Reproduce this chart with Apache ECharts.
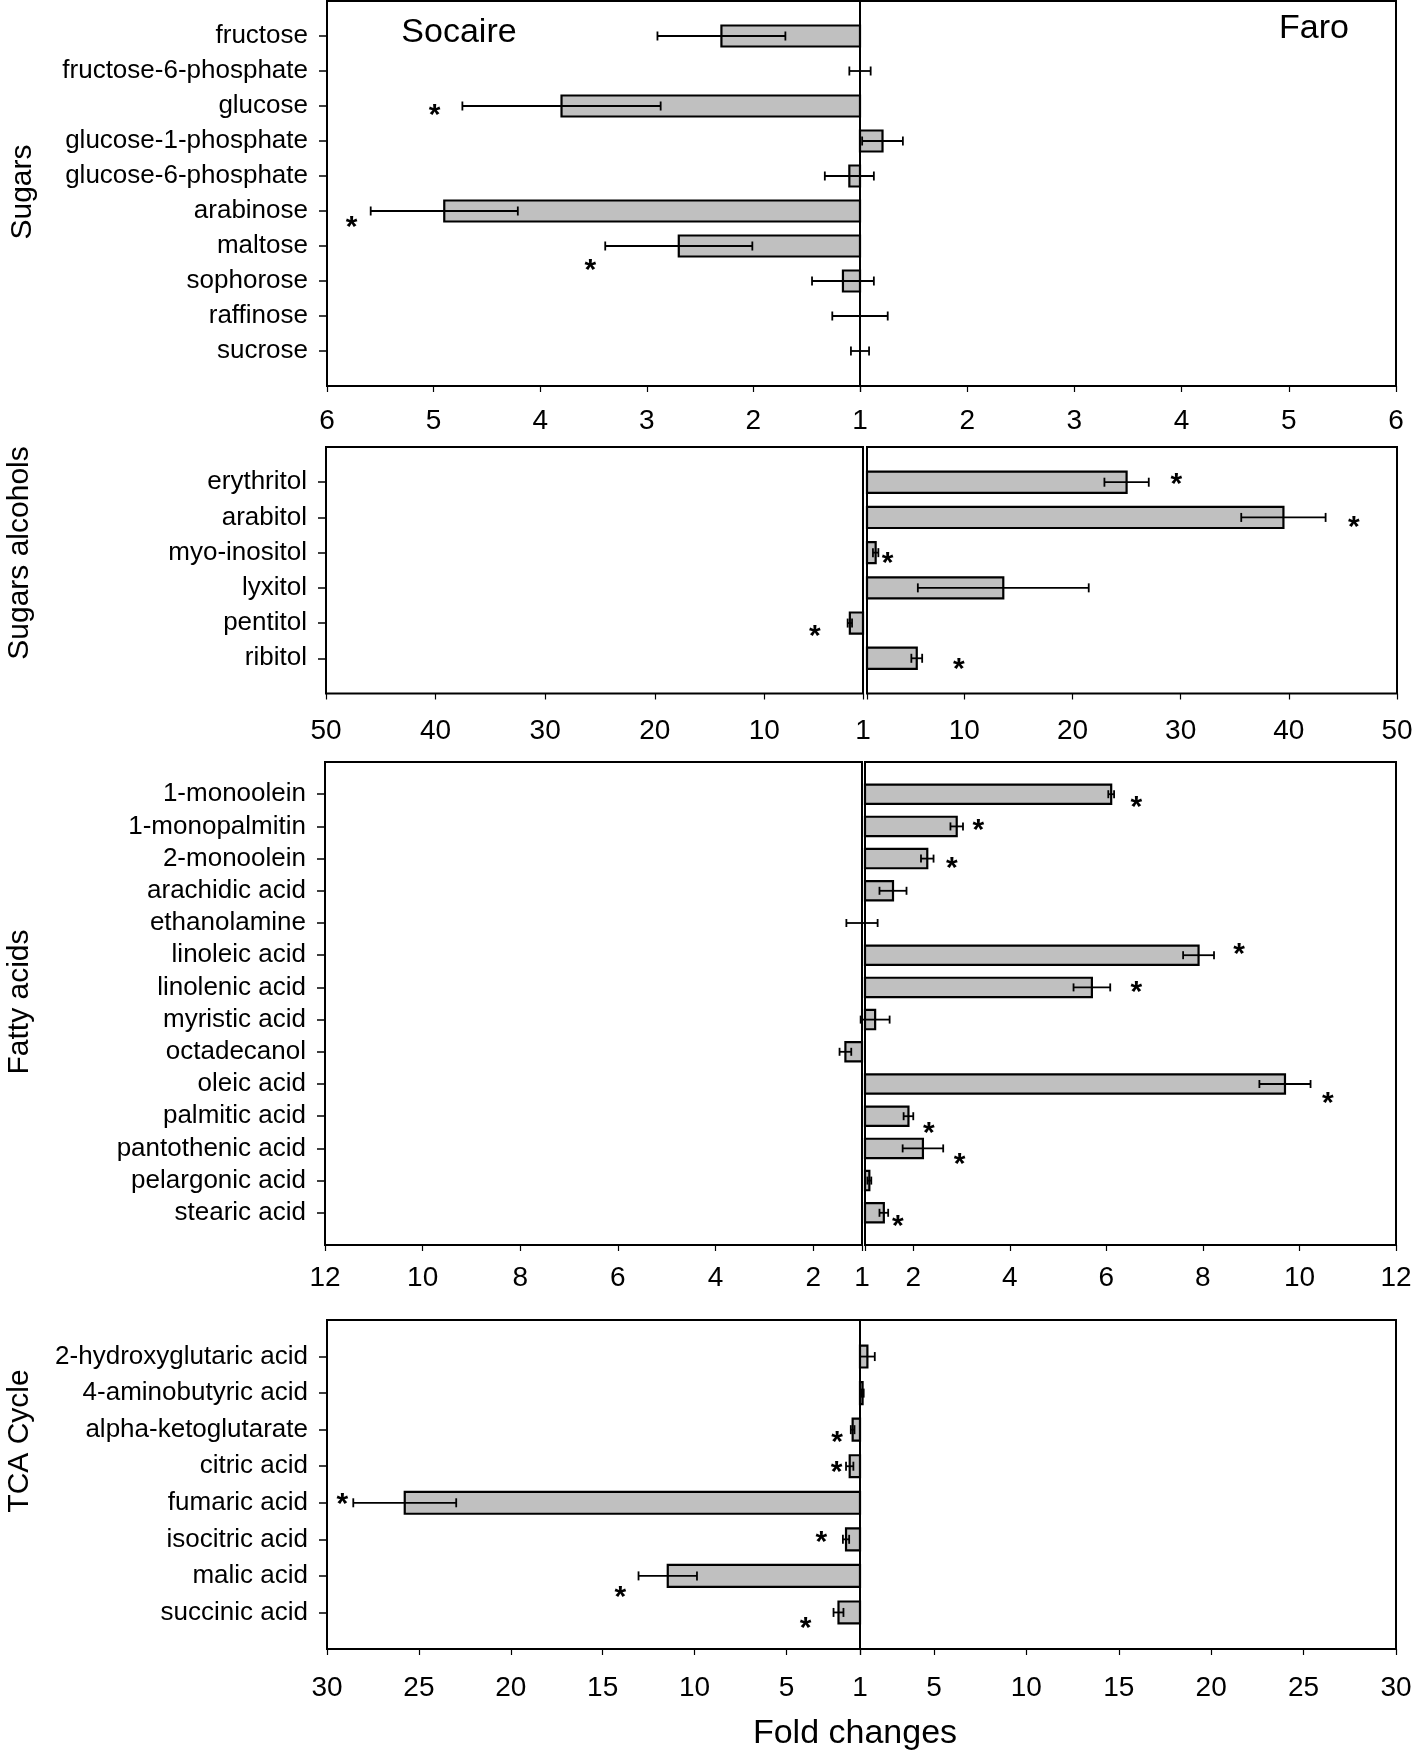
<!DOCTYPE html>
<html><head><meta charset="utf-8">
<script src="https://cdn.jsdelivr.net/npm/echarts@6/dist/echarts.min.js"></script>
<style>html,body{margin:0;padding:0;background:#fff}#c{width:1418px;height:1753px}</style>
</head><body><div id="c"></div>
<script>
const FONT = "'Liberation Sans', Arial, Helvetica, sans-serif";

// ---- Sugars ----
const sugarNames = ['fructose','fructose-6-phosphate','glucose','glucose-1-phosphate','glucose-6-phosphate','arabinose','maltose','sophorose','raffinose','sucrose'];
const sugarSide  = ['S','S','S','F','S','S','S','S','S','S'];
const sugarValue = [2.30,1.00,3.80,1.21,1.10,4.90,2.70,1.16,1.00,1.00];
const sugarError = [0.60,0.10,0.93,0.19,0.23,0.69,0.69,0.29,0.26,0.085];
const sugarStar  = [0,0,4.99,0,0,5.77,3.53,0,0,0];
const sugarStarDy= [0,0,0.09,0,0,0.28,0.50,0,0,0];
const sugarTicks = [1,2,3,4,5,6];

// ---- Sugar alcohols ----
const alcNames = ['erythritol','arabitol','myo-inositol','lyxitol','pentitol','ribitol'];
const alcSide  = ['F','F','F','F','S','F'];
const alcValue = [25.0,39.5,1.8,13.6,2.2,5.6];
const alcError = [2.05,3.9,0.25,7.9,0.2,0.5];
const alcStar  = [29.6,46.0,2.9,0,5.4,9.5];
const alcStarDy= [-0.13,0.08,0.12,0,0.19,0.12];
const alcTicks = [1,10,20,30,40,50];

// ---- Fatty acids ----
const fatNames = ['1-monoolein','1-monopalmitin','2-monoolein','arachidic acid','ethanolamine','linoleic acid','linolenic acid','myristic acid','octadecanol','oleic acid','palmitic acid','pantothenic acid','pelargonic acid','stearic acid'];
const fatSide  = ['F','F','F','F','S','F','F','F','S','F','F','F','F','F'];
const fatValue = [6.10,2.90,2.29,1.58,1.00,7.91,5.70,1.21,1.34,9.70,1.90,2.20,1.09,1.39];
const fatError = [0.06,0.13,0.13,0.28,0.32,0.32,0.38,0.30,0.12,0.53,0.10,0.42,0.04,0.09];
const fatStar  = [6.62,3.35,2.80,0,0,8.75,6.62,0,0,10.59,2.32,2.96,0,1.68];
const fatStarDy= [0.19,-0.07,0.09,0,0,-0.23,-0.04,0,0,0.41,0.34,0.30,0,0.20];
const fatTicks = [1,2,4,6,8,10,12];

// ---- TCA cycle ----
const tcaNames = ['2-hydroxyglutaric acid','4-aminobutyric acid','alpha-ketoglutarate','citric acid','fumaric acid','isocitric acid','malic acid','succinic acid'];
const tcaSide  = ['F','F','S','S','S','S','S','S'];
const tcaValue = [1.40,1.14,1.40,1.56,25.77,1.76,11.46,2.17];
const tcaError = [0.40,0.06,0.10,0.20,2.80,0.17,1.59,0.27];
const tcaStar  = [0,0,2.25,2.27,29.17,3.11,14.04,3.96];
const tcaStarDy= [0,0,0.155,0,-0.13,-0.11,0.40,0.26];
const tcaTicks = [1,5,10,15,20,25,30];

const panels = [
  {names:sugarNames, side:sugarSide, value:sugarValue, err:sugarError, star:sugarStar, dy:sugarStarDy, ticks:sugarTicks,
   L:{left:327,width:533}, R:{left:860,width:536}, top:1, height:385, margin:21, oneLeft:false, cap:4.5},
  {names:alcNames, side:alcSide, value:alcValue, err:alcError, star:alcStar, dy:alcStarDy, ticks:alcTicks,
   L:{left:326,width:537}, R:{left:867,width:530}, top:447, height:246.5, margin:24, oneLeft:true, cap:4.5},
  {names:fatNames, side:fatSide, value:fatValue, err:fatError, star:fatStar, dy:fatStarDy, ticks:fatTicks,
   L:{left:325,width:537}, R:{left:865,width:531}, top:762, height:483, margin:19, oneLeft:true, cap:4},
  {names:tcaNames, side:tcaSide, value:tcaValue, err:tcaError, star:tcaStar, dy:tcaStarDy, ticks:tcaTicks,
   L:{left:327,width:533}, R:{left:860,width:536}, top:1320, height:329, margin:25, oneLeft:true, cap:4.5}
];

function makeRender(cap) {
  return function (params, api) {
    const v = api.value(0), idx = api.value(1), e = api.value(2), sv = api.value(3), sdy = api.value(4);
    const band = api.size([0, 1])[1];
    const h = band * 0.6;
    const base = api.coord([1, idx]);
    const end = api.coord([v, idx]);
    const lo = api.coord([v - e, idx]);
    const hi = api.coord([v + e, idx]);
    const y = base[1];
    const ch = [];
    if (Math.abs(end[0] - base[0]) > 0.5) {
      ch.push({type:'rect', shape:{x:Math.min(base[0], end[0]), y:y - h/2, width:Math.abs(end[0] - base[0]), height:h},
               style:{fill:'#c0c0c0', stroke:'#000', lineWidth:2.2}});
    }
    const ls = {stroke:'#000', lineWidth:1.8};
    ch.push({type:'line', shape:{x1:lo[0], y1:y, x2:hi[0], y2:y}, style:ls});
    ch.push({type:'line', shape:{x1:lo[0], y1:y-cap, x2:lo[0], y2:y+cap}, style:ls});
    ch.push({type:'line', shape:{x1:hi[0], y1:y-cap, x2:hi[0], y2:y+cap}, style:ls});
    if (sv > 0) {
      const sp = api.coord([sv, idx]);
      ch.push({type:'text', x:sp[0], y:y + sdy * band + 7,
               style:{text:'*', font:'bold 30px ' + FONT, fill:'#000', align:'center', verticalAlign:'middle', textAlign:'center', textVerticalAlign:'middle'}});
    }
    return {type:'group', children:ch};
  };
}

const grid = [], xAxis = [], yAxis = [], series = [];
panels.forEach((p, pi) => {
  const cats = [''].concat(p.names, ['']);
  const max = p.ticks[p.ticks.length - 1];
  [['S', p.L], ['F', p.R]].forEach(([sd, g], k) => {
    const gi = grid.length;
    grid.push({left:g.left, width:g.width, top:p.top, height:p.height, show:true, borderColor:'#000', borderWidth:2,
               backgroundColor:'transparent', containLabel:false, outerBoundsMode:'none'});
    const labelVals = p.ticks.filter(t => t !== 1 || (sd === 'S' ? p.oneLeft : !p.oneLeft));
    xAxis.push({type:'value', gridIndex:gi, min:1, max:max, inverse: sd === 'S', position:'bottom',
      axisLine:{show:false}, splitLine:{show:false},
      axisTick:{show:true, inside:false, length:6, lineStyle:{color:'#000', width:1.2}, customValues:p.ticks},
      axisLabel:{show:true, customValues:labelVals, fontSize:28, fontFamily:FONT, color:'#000', margin:p.margin}});
    yAxis.push({type:'category', gridIndex:gi, data:cats, inverse:true, boundaryGap:false, show: sd === 'S',
      axisLine:{show:false}, splitLine:{show:false},
      axisTick:{show:true, inside:false, length:8, lineStyle:{color:'#000', width:1.5}, interval:(i, v) => v !== ''},
      axisLabel:{interval:0, fontSize:26, fontFamily:FONT, color:'#000', margin:19}});
    const data = [];
    p.names.forEach((n, i) => {
      if (p.side[i] === sd) data.push([p.value[i], i + 1, p.err[i], p.star[i], p.dy[i]]);
    });
    series.push({type:'custom', xAxisIndex:gi, yAxisIndex:gi, data:data, encode:{x:0, y:1},
      renderItem:makeRender(p.cap), clip:false, silent:true, animation:false});
  });
});

function sideLabel(text, x, y) {
  return {type:'text', x:x, y:y, rotation:Math.PI/2,
    style:{text:text, font:'30px ' + FONT, fill:'#000', align:'center', verticalAlign:'middle', textAlign:'center', textVerticalAlign:'middle'}};
}
function plainText(text, x, y, size) {
  return {type:'text', x:x, y:y,
    style:{text:text, font:size + 'px ' + FONT, fill:'#000', align:'center', verticalAlign:'middle', textAlign:'center', textVerticalAlign:'middle'}};
}

const chart = echarts.init(document.getElementById('c'), null, {renderer:'canvas'});
chart.setOption({
  animation:false,
  backgroundColor:'#fff',
  grid, xAxis, yAxis, series,
  graphic:[
    plainText('Socaire', 459, 33, 34),
    plainText('Faro', 1314, 29, 34),
    plainText('Fold changes', 855, 1734, 34),
    sideLabel('Sugars', 23, 192),
    sideLabel('Sugars alcohols', 20, 553),
    sideLabel('Fatty acids', 20, 1002),
    sideLabel('TCA Cycle', 20, 1441)
  ]
});
</script></body></html>
